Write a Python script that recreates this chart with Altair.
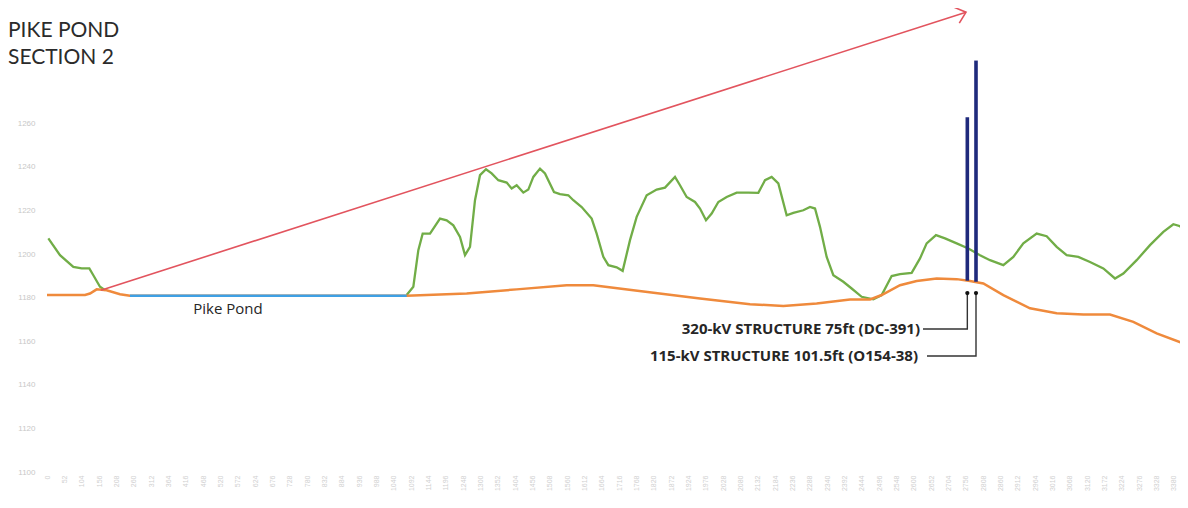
import altair as alt
import pandas as pd

# ---------------- data (distance in ft, elevation in ft) ----------------
ground_a_ft = [4, 39, 79, 104, 127, 139, 159, 174]
ground_a_el = [1207.2, 1199.5, 1194.1, 1193.4, 1193.4, 1190.3, 1185.0, 1183.4]

ground_b_ft = [1079, 1099, 1114, 1127, 1149, 1179, 1199, 1219, 1239, 1254, 1269, 1284, 1299, 1317,
               1334, 1354, 1379, 1394, 1409, 1429, 1444, 1459, 1479, 1494, 1521, 1539, 1564, 1579,
               1604, 1634, 1649, 1669, 1684, 1709, 1727, 1749, 1769, 1799, 1829, 1854, 1884, 1899,
               1919, 1944, 1959, 1977, 1994, 2014, 2039, 2069, 2104, 2134, 2154, 2174, 2194, 2219,
               2239, 2269, 2289, 2304, 2319, 2339, 2359, 2389, 2414, 2444, 2479, 2504, 2534, 2559,
               2594, 2619, 2639, 2667, 2694, 2729, 2764, 2799, 2829, 2869, 2899, 2929, 2969, 2999,
               3029, 3059, 3094, 3129, 3169, 3204, 3229, 3269, 3309, 3349, 3379, 3399, 3412]
ground_b_el = [1181.2, 1185.0, 1201.8, 1209.4, 1209.4, 1216.3, 1215.5, 1213.2, 1207.9, 1199.5, 1203.3,
               1224.7, 1236.2, 1238.9, 1237.0, 1233.9, 1232.8, 1230.1, 1231.6, 1228.2, 1229.6, 1235.4,
               1239.2, 1237.0, 1228.5, 1227.5, 1227.0, 1224.7, 1221.6, 1216.3, 1209.4, 1198.7, 1194.9,
               1193.9, 1192.3, 1206.4, 1217.1, 1227.0, 1229.6, 1230.5, 1235.4, 1231.6, 1226.2, 1223.9,
               1220.9, 1215.5, 1218.6, 1223.9, 1226.2, 1228.2, 1228.2, 1228.1, 1233.9, 1235.4, 1232.4,
               1217.8, 1218.9, 1220.1, 1221.6, 1220.9, 1212.5, 1198.7, 1190.3, 1187.3, 1184.2, 1180.4,
               1179.2, 1181.2, 1189.9, 1190.8, 1191.4, 1198.0, 1204.9, 1208.7, 1207.2, 1204.9, 1202.6,
               1199.5, 1197.2, 1194.9, 1198.7, 1204.9, 1209.4, 1208.2, 1203.3, 1199.5, 1198.7, 1196.4,
               1193.4, 1188.8, 1191.1, 1197.2, 1204.1, 1210.2, 1213.7, 1212.8, 1210.2]

profile_ft = [0, 114, 129, 149, 179, 219, 249, 1079, 1259, 1409, 1559, 1639, 1759, 1959, 2109, 2209,
              2309, 2409, 2469, 2504, 2559, 2609, 2669, 2729, 2769, 2809, 2869, 2949, 3029, 3109,
              3189, 3259, 3329, 3409]
profile_el = [1181.2, 1181.2, 1181.9, 1183.8, 1183.4, 1181.6, 1180.9, 1180.9, 1181.9, 1183.8, 1185.7,
              1185.7, 1183.4, 1179.6, 1177.0, 1176.2, 1177.3, 1179.2, 1179.2, 1181.2, 1185.7, 1187.6,
              1188.8, 1188.5, 1187.6, 1186.5, 1181.2, 1175.1, 1172.8, 1172.3, 1172.3, 1168.9, 1163.6,
              1159.0]

pond_ft = [249, 1079]
pond_el = [1180.9, 1180.9]

sight_ft = [162, 2757]
sight_el = [1183.4, 1311.0]

struct_names = ["320-kV STRUCTURE 75ft (DC-391)", "115-kV STRUCTURE 101.5ft (O154-38)"]
struct_ft = [2761, 2787]
struct_base = [1187.8, 1187.3]
struct_height = [75, 101.5]
struct_dot_el = [1182.1, 1182.1]
struct_label_el = [1165.6, 1153.2]
struct_leader_end_ft = [2628, 2640]
struct_label_ft = [2619, 2613]

pond_label = "Pike Pond"
pond_label_ft = [543]
pond_label_el = [1174.7]

y_ticks = [1100, 1120, 1140, 1160, 1180, 1200, 1220, 1240, 1260]
x_ticks = [0, 52, 104, 156, 208, 260, 312, 364, 416, 468, 520, 572, 624, 676, 728, 780, 832, 884,
           936, 988, 1040, 1092, 1144, 1196, 1248, 1300, 1352, 1404, 1456, 1508, 1560, 1612, 1664,
           1716, 1768, 1820, 1872, 1924, 1976, 2028, 2080, 2132, 2184, 2236, 2288, 2340, 2392, 2444,
           2496, 2548, 2600, 2652, 2704, 2756, 2808, 2860, 2912, 2964, 3016, 3068, 3120, 3172, 3224,
           3276, 3328, 3380]

# ---------------- tables ----------------
ground = pd.DataFrame({
    "ft": ground_a_ft + ground_b_ft,
    "el": ground_a_el + ground_b_el,
    "seg": ["a"] * len(ground_a_ft) + ["b"] * len(ground_b_ft),
})
profile = pd.DataFrame({"ft": profile_ft, "el": profile_el})
pond = pd.DataFrame({"ft": pond_ft, "el": pond_el})
sight = pd.DataFrame({"ft": sight_ft, "el": sight_el})
tip = sight.iloc[[-1]]
structs = pd.DataFrame({
    "name": struct_names, "ft": struct_ft, "base": struct_base,
    "top": [b + h for b, h in zip(struct_base, struct_height)],
    "dot": struct_dot_el, "lab": struct_label_el,
    "lend": struct_leader_end_ft, "lft": struct_label_ft,
})
leader_rows = []
for i in range(len(struct_names)):
    leader_rows += [
        {"id": i, "o": 0, "ft": struct_ft[i], "el": struct_dot_el[i]},
        {"id": i, "o": 1, "ft": struct_ft[i], "el": struct_label_el[i]},
        {"id": i, "o": 2, "ft": struct_leader_end_ft[i], "el": struct_label_el[i]},
    ]
leaders = pd.DataFrame(leader_rows)
plabel = pd.DataFrame({"ft": pond_label_ft, "el": pond_label_el, "t": [pond_label]})

xs = alt.Scale(domain=[0, 3399], nice=False, zero=False)
ys = alt.Scale(domain=[1100, 1312], nice=False, zero=False)

x_axis = alt.Axis(values=x_ticks, labelAngle=-90, labelFontSize=7, labelColor="#d0d0d0",
                  domain=False, ticks=False, grid=False, title=None, labelPadding=3,
                  labelFont="Liberation Sans", labelOverlap=False, labelBaseline="middle",
                  labelAlign="right", format="d")
y_axis = alt.Axis(values=y_ticks, labelFontSize=8, labelColor="#c8c8c8", domain=False,
                  ticks=False, grid=False, title=None, labelPadding=12, labelFont="Liberation Sans",
                  format="d")


def X(f="ft"):
    return alt.X(f"{f}:Q", scale=xs, axis=x_axis, title=None)


def Y(f="el"):
    return alt.Y(f"{f}:Q", scale=ys, axis=y_axis, title=None)


ground_l = alt.Chart(ground).mark_line(color="#71ad47", strokeWidth=2.3).encode(
    x=X(), y=Y(), detail="seg:N")
profile_l = alt.Chart(profile).mark_line(color="#ef8a3c", strokeWidth=2.5).encode(x=X(), y=Y())
pond_l = alt.Chart(pond).mark_line(color="#3ea0e4", strokeWidth=2.6).encode(x=X(), y=Y())
sight_l = alt.Chart(sight).mark_line(color="#e2545e", strokeWidth=1.6).encode(x=X(), y=Y())
tip_p = alt.Chart(tip).mark_point(
    shape="M-1,-0.85L0,0L-1,0.85", size=380, filled=False, color="#e2545e",
    strokeWidth=1.6, angle=342, opacity=1,
).encode(x=X(), y=Y())

poles = alt.Chart(structs).mark_rule(color="#1f2a7c", strokeWidth=3.6).encode(
    x=X(), y=Y("base"), y2="top:Q")
leader_l = alt.Chart(leaders).mark_line(color="#333333", strokeWidth=1.4).encode(
    x=X(), y=Y(), detail="id:N", order="o:Q")
dots = alt.Chart(structs).mark_point(filled=True, color="#111111", size=18, opacity=1).encode(
    x=X(), y=Y("dot"))
labels = alt.Chart(structs).mark_text(
    align="right", baseline="middle", font="Open Sans", fontWeight="bold", fontSize=15,
    color="#262626").encode(x=X("lft"), y=Y("lab"), text="name:N")
pond_t = alt.Chart(plabel).mark_text(
    align="center", baseline="middle", font="Open Sans", fontSize=15, color="#262626"
).encode(x=X(), y=Y(), text="t:N")

chart = alt.layer(
    ground_l, profile_l, pond_l, sight_l, tip_p, poles, leader_l, dots, labels, pond_t
).properties(
    width=1133, height=462,
    padding={"left": 39, "top": 2, "right": 0, "bottom": 28},
    autosize="none",
    title=alt.TitleParams(
        text=["PIKE POND", "SECTION 2"], anchor="start", frame="group", orient="top",
        font="Lato", fontSize=21, fontWeight="normal", color="#2b2b2b",
        baseline="top", lineHeight=27, dx=-39, dy=64, offset=0,
    ),
).configure_view(stroke=None)

chart.save("out.html", embed_options={"renderer": "svg", "actions": False})
